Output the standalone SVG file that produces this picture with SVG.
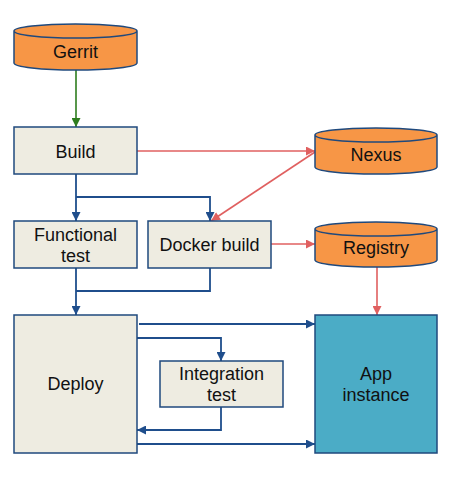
<svg xmlns="http://www.w3.org/2000/svg" width="450" height="482" viewBox="0 0 450 482">
<defs>
<style>
.box{fill:#EEECE1;stroke:#1F497D;stroke-width:1.5}
.app{fill:#4BACC6;stroke:#1F497D;stroke-width:1.5}
.cyl{fill:#F79646;stroke:#1F497D;stroke-width:1.5}
.t{font-family:"Liberation Sans",Arial,sans-serif;font-size:18px;fill:#111;text-anchor:middle}
.b{fill:none;stroke:#1F4E8C;stroke-width:1.8}
.r{fill:none;stroke:#E06060;stroke-width:1.6}
.g{fill:none;stroke:#2E7D1E;stroke-width:1.6}
</style>
<marker id="ab" viewBox="0 0 10 10" refX="10" refY="5" markerWidth="10" markerHeight="9" markerUnits="userSpaceOnUse" orient="auto"><path d="M0,0L10,5L0,10z" fill="#1F4E8C"/></marker>
<marker id="ar" viewBox="0 0 10 10" refX="10" refY="5" markerWidth="10" markerHeight="9" markerUnits="userSpaceOnUse" orient="auto"><path d="M0,0L10,5L0,10z" fill="#E06060"/></marker>
<marker id="ag" viewBox="0 0 10 10" refX="10" refY="5" markerWidth="10" markerHeight="9" markerUnits="userSpaceOnUse" orient="auto"><path d="M0,0L10,5L0,10z" fill="#2E7D1E"/></marker>
</defs>
<rect width="450" height="482" fill="#fff"/>
<g id="connectors">
<path class="g" d="M76,70V127" marker-end="url(#ag)"/>
<path class="r" d="M137,151H315" marker-end="url(#ar)"/>
<path class="r" d="M315,152L211,221" marker-end="url(#ar)"/>
<path class="r" d="M271,244H315" marker-end="url(#ar)"/>
<path class="r" d="M377,266V315" marker-end="url(#ar)"/>
<path class="b" d="M76,174V221" marker-end="url(#ab)"/>
<path class="b" d="M76,197H210V221" marker-end="url(#ab)"/>
<path class="b" d="M76,268V315" marker-end="url(#ab)"/>
<path class="b" d="M210,268V291H76"/>
<path class="b" d="M139,324H315" marker-end="url(#ab)"/>
<path class="b" d="M137,338H221V361" marker-end="url(#ab)"/>
<path class="b" d="M221,407V430H137" marker-end="url(#ab)"/>
<path class="b" d="M137,444H315" marker-end="url(#ab)"/>
</g>
<g id="gerrit">
<path class="cyl" d="M14,31V63A61.5,7 0 0 0 137,63V31A61.5,7 0 0 0 14,31A61.5,7 0 0 0 137,31"/>
<text class="t" x="75.5" y="58">Gerrit</text>
</g>
<g id="build">
<rect class="box" x="14" y="127" width="123" height="47"/>
<text class="t" x="75.5" y="158">Build</text>
</g>
<g id="nexus">
<path class="cyl" d="M315,135V167A61,7 0 0 0 437,167V135A61,7 0 0 0 315,135A61,7 0 0 0 437,135"/>
<text class="t" x="376" y="161">Nexus</text>
</g>
<g id="functional">
<rect class="box" x="14" y="221" width="123" height="47"/>
<text class="t" x="75.5" y="241">Functional</text>
<text class="t" x="75.5" y="262">test</text>
</g>
<g id="docker">
<rect class="box" x="148" y="221" width="123" height="47"/>
<text class="t" x="209.5" y="251">Docker build</text>
</g>
<g id="registry">
<path class="cyl" d="M315,229V260A61,7 0 0 0 437,260V229A61,7 0 0 0 315,229A61,7 0 0 0 437,229"/>
<text class="t" x="376" y="254">Registry</text>
</g>
<g id="deploy">
<rect class="box" x="14" y="315" width="123" height="138"/>
<text class="t" x="75.5" y="390">Deploy</text>
</g>
<g id="integration">
<rect class="box" x="160" y="361" width="123" height="46"/>
<text class="t" x="221.5" y="380">Integration</text>
<text class="t" x="221.5" y="401">test</text>
</g>
<g id="app">
<rect class="app" x="315" y="315" width="122" height="138"/>
<text class="t" x="376" y="380">App</text>
<text class="t" x="376" y="401">instance</text>
</g>
</svg>
